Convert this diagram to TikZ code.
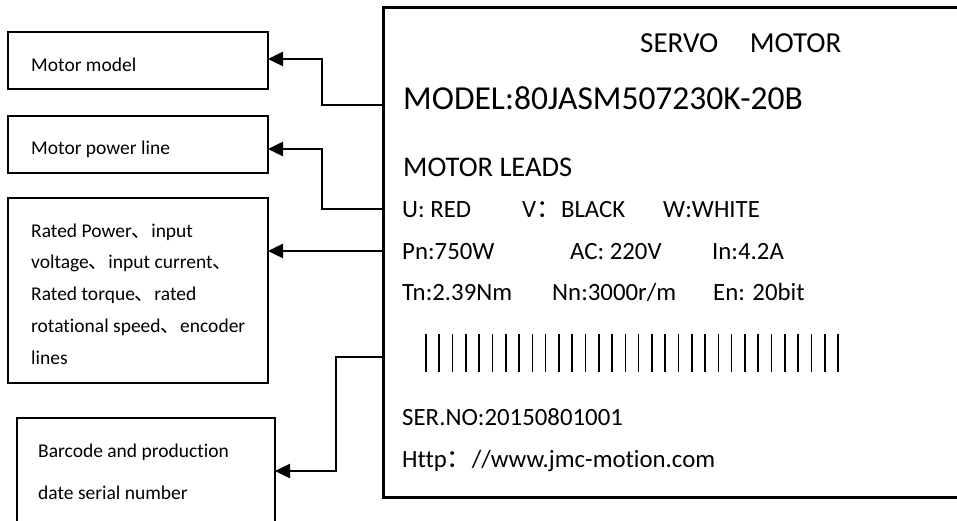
\documentclass[tikz,border=0pt]{standalone}
\usepackage{fontspec}
\setmainfont{Carlito}[Ligatures=NoCommon]
\newfontfamily\cjk{Noto Sans CJK SC}
\newcommand\dun{{\cjk 、}}
\newcommand\qcolon{{\cjk ：}}
\usetikzlibrary{arrows.meta}

\tikzset{
  infobox/.style={draw, line width=2.2pt, anchor=north west, inner sep=0pt, outer sep=0pt},
  boxtext/.style={anchor=base west, inner sep=0pt, font=\fontsize{19.5}{23}\selectfont},
  platetext/.style={anchor=base west, inner sep=0pt, font=\fontsize{24.8}{29}\selectfont},
  lead/.style={line width=2.5pt, -{Triangle[length=15pt,width=14pt]}},
}

\begin{document}
\begin{tikzpicture}[x=1pt,y=-1pt]
    \useasboundingbox (0,0) rectangle (957,521);
    \node[infobox, line width=3pt, minimum width=620pt, minimum height=489pt] (plate) at (383,8) {};
    \node[platetext, font=\fontsize{29}{34}\selectfont] (servo) at (640,53) {SERVO\hspace{31.5pt}MOTOR};
    \node[platetext, font=\fontsize{33.5}{40}\selectfont] (modelno) at (403,110) {MODEL:80JASM507230K-20B};
    \node[platetext, font=\fontsize{28.5}{34}\selectfont] (leads) at (403,177) {MOTOR LEADS};
    \node[platetext] (u) at (402,218) {U: RED};
    \node[platetext] (v) at (522,218) {V\qcolon BLACK};
    \node[platetext] (w) at (663,218) {W:WHITE};
    \node[platetext] (pn) at (402,259) {Pn:750W};
    \node[platetext] (ac) at (570,259) {AC: 220V};
    \node[platetext] (in) at (712,259) {In:4.2A};
    \node[platetext] (tn) at (402,300) {Tn:2.39Nm};
    \node[platetext] (nn) at (552,300) {Nn:3000r/m};
    \node[platetext] (en) at (713,300) {En: 20bit};
    \foreach \k in {0,...,31}
        \draw[line width=1.6pt] (426+13.29*\k,334) -- (426+13.29*\k,372);
    \node[platetext] (serno) at (402,425) {SER.NO:20150801001};
    \node[platetext] (web) at (402,467) {Http\qcolon//www.jmc-motion.com};

    \node[infobox, minimum width=260pt, minimum height=57pt] (model) at (8,32) {};
    \node[boxtext] (modeltxt) at (31,72) {Motor model};
    \node[infobox, minimum width=260pt, minimum height=57pt] (power) at (8,116) {};
    \node[boxtext] (powertxt) at (31,155) {Motor power line};
    \node[infobox, minimum width=260pt, minimum height=185pt] (rated) at (8,198) {};
    \foreach \txt [count=\i] in {Rated Power\dun input, voltage\dun input current\dun, Rated torque\dun rated, rotational speed\dun encoder, lines}
        \node[boxtext] (rated\i) at (31,205.25+31.75*\i) {\txt};
    \node[infobox, minimum width=258pt, minimum height=112pt] (barcode) at (17,418) {};
    \node[boxtext] (barcode1) at (38,457) {Barcode and production};
    \node[boxtext] (barcode2) at (38,499) {date serial number};

    \coordinate (p1) at (383,105);
    \coordinate (p2) at (383,209);
    \coordinate (p3) at (383,251);
    \coordinate (p4) at (383,357);
    \draw[lead] (p1) -- ++(-61,0) |- ([yshift=1.5pt]model.east);
    \draw[lead] (p2) -- ++(-61,0) |- ([yshift=-4.5pt]power.east);
    \draw[lead] (p3) -- (rated.east |- p3);
    \draw[lead] (p4) -- ++(-47,0) |- ([yshift=3pt]barcode.east);
  \end{tikzpicture}
\end{document}
